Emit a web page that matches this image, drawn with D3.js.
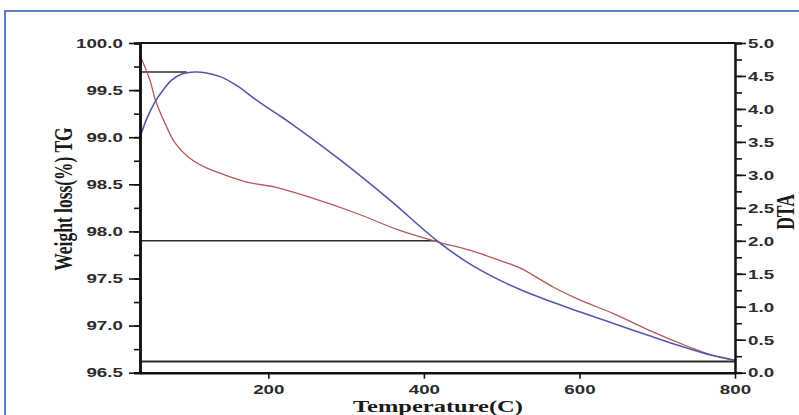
<!DOCTYPE html>
<html>
<head>
<meta charset="utf-8">
<script src="https://cdn.jsdelivr.net/npm/d3@7"></script>
<style>
  body { margin: 0; background: #fff; }
  svg { display: block; }
</style>
</head>
<body>
<svg width="799" height="415"></svg>
<script>
// TG curve (left axis, weight %)
var tgTemp = [35, 48, 55, 67, 80, 97, 119, 144, 174, 209, 254, 314, 369, 417, 459, 498, 524, 566, 601, 643, 695, 742, 772, 800];
var tgWeight = [99.87, 99.60, 99.39, 99.15, 98.94, 98.79, 98.68, 98.60, 98.52, 98.47, 98.36, 98.19, 98.01, 97.89, 97.80, 97.69, 97.61, 97.41, 97.27, 97.13, 96.93, 96.77, 96.68, 96.63];

// DTA curve (right axis)
var dtaTemp = [35, 44, 54, 65, 76, 89, 106, 119, 138, 160, 183, 209, 228, 292, 356, 417, 459, 498, 536, 601, 643, 695, 742, 772, 800];
var dtaValue = [3.57, 3.86, 4.10, 4.29, 4.44, 4.53, 4.56, 4.55, 4.49, 4.35, 4.15, 3.94, 3.79, 3.23, 2.62, 2.00, 1.65, 1.40, 1.20, 0.92, 0.75, 0.54, 0.36, 0.26, 0.19];

// horizontal reference lines (DTA units): level, start temp, end temp
var refLevel = [4.56, 2.00, 0.17];
var refStart = [35, 35, 35];
var refEnd = [95, 417, 800];

var xTicks = [200, 400, 600, 800];
var leftTicks = [96.5, 97.0, 97.5, 98.0, 98.5, 99.0, 99.5, 100.0];
var rightTicks = [0, 0.5, 1, 1.5, 2, 2.5, 3, 3.5, 4, 4.5, 5];

var svg = d3.select("svg");
var pLeft = 140, pRight = 735, pTop = 43, pBottom = 372.7;

var x = d3.scaleLinear().domain([35, 800]).range([pLeft, pRight]);
var yL = d3.scaleLinear().domain([96.5, 100]).range([pBottom, pTop]);
var yR = d3.scaleLinear().domain([0, 5]).range([pBottom, pTop]);

// outer blue frame
svg.append("rect")
    .attr("x", 5).attr("y", 11)
    .attr("width", 830).attr("height", 430)
    .attr("fill", "none")
    .attr("stroke", "#5585c8")
    .attr("stroke-width", 2);

var g = svg.append("g");

// reference lines
g.selectAll(".ref")
  .data(refLevel)
  .enter().append("line")
    .attr("class", "ref")
    .attr("x1", function(d, i) { return x(refStart[i]); })
    .attr("x2", function(d, i) { return x(refEnd[i]); })
    .attr("y1", function(d) { return yR(d); })
    .attr("y2", function(d) { return yR(d); })
    .attr("stroke", "#2a2a2a")
    .attr("stroke-width", function(d, i) { return i == 2 ? 2 : 1.6; });

var lineTG = d3.line()
    .x(function(d, i) { return x(tgTemp[i]); })
    .y(function(d) { return yL(d); })
    .curve(d3.curveCatmullRom.alpha(0.5));

var lineDTA = d3.line()
    .x(function(d, i) { return x(dtaTemp[i]); })
    .y(function(d) { return yR(d); })
    .curve(d3.curveCatmullRom.alpha(0.5));

g.append("path")
    .datum(tgWeight)
    .attr("d", lineTG)
    .style("fill", "none")
    .style("stroke", "#b35a58")
    .style("stroke-width", "1.3px");

g.append("path")
    .datum(dtaValue)
    .attr("d", lineDTA)
    .style("fill", "none")
    .style("stroke", "#5656ac")
    .style("stroke-width", "1.6px");

// top border
g.append("line")
    .attr("x1", x(35)).attr("x2", x(800))
    .attr("y1", yL(100)).attr("y2", yL(100))
    .attr("stroke", "#111").attr("stroke-width", 2);

function styleAxis(sel, w) {
  sel.select(".domain").attr("stroke", "#111").attr("stroke-width", w);
  sel.selectAll(".tick line").attr("stroke", "#111").attr("stroke-width", 1.6);
  sel.selectAll("text")
      .attr("fill", "#2b2b2b")
      .style("font-family", "'Liberation Sans', Arial, sans-serif")
      .style("font-weight", "bold")
      .style("font-size", "13.4px");
}

// minor ticks
g.append("g")
    .attr("transform", "translate(" + pLeft + ",0)")
    .call(d3.axisLeft(yL).tickValues(d3.range(96.5, 100.01, 0.25)).tickSize(6).tickFormat(""))
    .call(styleAxis, 2.5);
g.append("g")
    .attr("transform", "translate(" + pRight + ",0)")
    .call(d3.axisRight(yR).tickValues(d3.range(0, 5.01, 0.25)).tickSize(7).tickFormat(""))
    .call(styleAxis, 2);

// major axes
var gl = g.append("g")
    .attr("transform", "translate(" + pLeft + ",0)")
    .call(d3.axisLeft(yL).tickValues(leftTicks).tickSize(11).tickSizeOuter(0).tickFormat(d3.format(".1f")))
    .call(styleAxis, 2.5);
gl.selectAll("text").attr("x", -12.2).attr("transform", "scale(1.4,1)");

var gr = g.append("g")
    .attr("transform", "translate(" + pRight + ",0)")
    .call(d3.axisRight(yR).tickValues(rightTicks).tickSize(11).tickSizeOuter(0).tickFormat(d3.format(".1f")))
    .call(styleAxis, 2);
gr.selectAll("text").attr("x", 9.3).attr("transform", "scale(1.4,1)");

var gb = g.append("g")
    .attr("transform", "translate(0," + pBottom + ")")
    .call(d3.axisBottom(x).tickValues(xTicks).tickSize(6).tickSizeOuter(0))
    .call(styleAxis, 2.5);
gb.selectAll("text").attr("y", 12).attr("transform", "scale(1.4,1)");

// axis titles
function title(str, tx, ty, rot) {
  svg.append("text")
      .attr("transform", "translate(" + tx + "," + ty + ") scale(1.4,1)" + (rot ? " rotate(-90)" : ""))
      .attr("text-anchor", "middle")
      .attr("fill", "#1a1a1a")
      .style("font-family", "'Liberation Serif', 'Times New Roman', serif")
      .style("font-weight", "bold")
      .style("font-size", "17.5px")
      .text(str);
}
title("Weight loss(%) TG", 72, 199, true);
title("DTA", 794, 212, true);
title("Temperature(C)", 438, 412, false);
</script>
</body>
</html>
